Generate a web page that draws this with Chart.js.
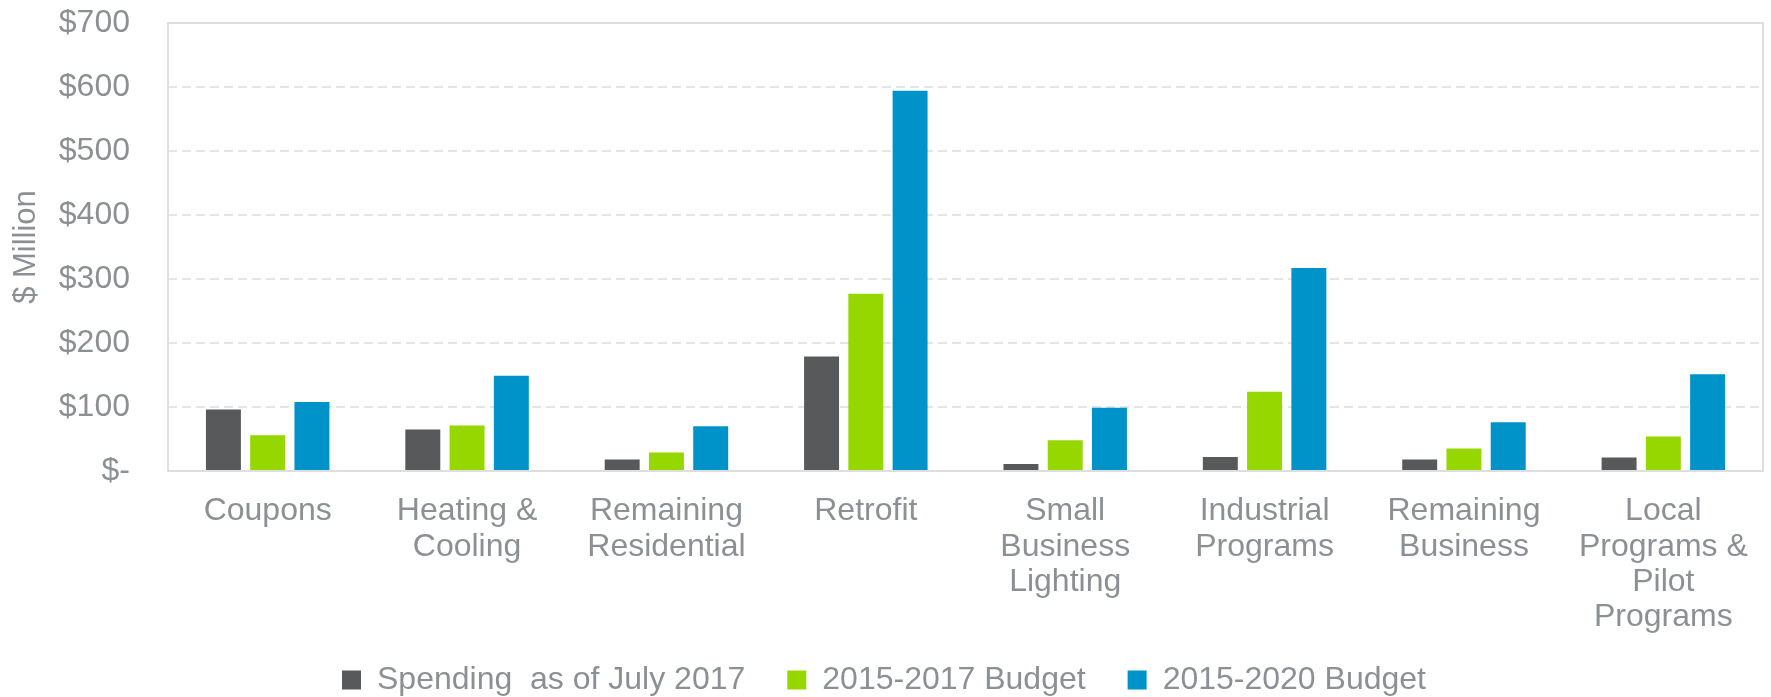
<!DOCTYPE html>
<html>
<head>
<meta charset="utf-8">
<title>Program Spending vs Budget</title>
<script src="https://cdn.jsdelivr.net/npm/chart.js@4.4.1/dist/chart.umd.min.js"></script>
<style>
    html, body { margin: 0; padding: 0; background: #fff; }
    #wrap { width: 1771px; height: 697px; position: relative; }
</style>
</head>
<body>
<div id="wrap"><canvas id="spend-chart"></canvas></div>
<script>
// Program categories (multi-line labels)
const categories = [
    ['Coupons'],
    ['Heating &', 'Cooling'],
    ['Remaining', 'Residential'],
    ['Retrofit'],
    ['Small', 'Business', 'Lighting'],
    ['Industrial', 'Programs'],
    ['Remaining', 'Business'],
    ['Local', 'Programs &', 'Pilot', 'Programs']
];

// $ Million
const spending2017 = [96, 65, 18, 179, 11, 22, 18, 21];
const budget2015to2017 = [56, 71, 29, 277, 48, 124, 35, 54];
const budget2015to2020 = [108, 149, 70, 594, 99, 317, 76, 151];

const seriesNames = ['Spending  as of July 2017', '2015-2017 Budget', '2015-2020 Budget'];
const seriesColors = ['#58595B', '#97D700', '#0093C9'];

const textGray = '#8C9094';
const fontFamily = '"Liberation Sans", Arial, sans-serif';

// Solid frame around the plot area
const plotFrame = {
    id: 'plotFrame',
    afterDatasetsDraw(chart) {
        const a = chart.chartArea;
        const ctx = chart.ctx;
        ctx.save();
        ctx.strokeStyle = '#DEDEDE';
        ctx.lineWidth = 2;
        ctx.strokeRect(a.left, a.top, a.right - a.left, a.bottom - a.top);
        ctx.restore();
    }
};

const ctx = document.getElementById('spend-chart');

new Chart(ctx, {
    type: 'bar',
    data: {
        labels: categories,
        datasets: [
            { label: seriesNames[0], data: spending2017, backgroundColor: seriesColors[0] },
            { label: seriesNames[1], data: budget2015to2017, backgroundColor: seriesColors[1] },
            { label: seriesNames[2], data: budget2015to2020, backgroundColor: seriesColors[2] }
        ]
    },
    options: {
        responsive: true,
        maintainAspectRatio: false,
        animation: false,
        categoryPercentage: 0.666,
        barPercentage: 0.79,
        layout: {
            padding: { top: 23, right: 3, bottom: -9, left: 0 }
        },
        plugins: {
            tooltip: { enabled: false },
            legend: {
                position: 'bottom',
                labels: {
                    color: textGray,
                    font: { family: fontFamily, size: 32 },
                    boxWidth: 19,
                    boxHeight: 19,
                    padding: 26,
                    // a little extra room after each item except the last
                    generateLabels: function(chart) {
                        const items = Chart.defaults.plugins.legend.labels.generateLabels(chart);
                        items.forEach(function(item, i) {
                            if (i < items.length - 1) item.text += '\u2002';
                        });
                        return items;
                    }
                }
            }
        },
        scales: {
            x: {
                grid: { display: false, drawTicks: false },
                border: { display: false },
                ticks: {
                    color: textGray,
                    font: { family: fontFamily, size: 32, lineHeight: 1.1 },
                    padding: 23,
                    maxRotation: 0,
                    autoSkip: false
                },
                afterFit: function(scale) {
                    scale.height = 167;
                }
            },
            y: {
                min: 0,
                max: 700,
                grid: {
                    color: '#E4E4E4',
                    lineWidth: 2,
                    drawTicks: true,
                    tickLength: 35,
                    tickColor: 'transparent'
                },
                border: { display: false, dash: [9, 5] },
                ticks: {
                    stepSize: 100,
                    color: textGray,
                    font: { family: fontFamily, size: 32 },
                    padding: 3,
                    callback: function(value) {
                        return value === 0 ? '$-' : '$' + value;
                    }
                },
                title: {
                    display: true,
                    text: '$ Million',
                    color: textGray,
                    font: { family: fontFamily, size: 31 },
                    padding: { top: 8, bottom: 0 }
                },
                afterFit: function(scale) {
                    scale.width = 168;
                }
            }
        }
    },
    plugins: [plotFrame]
});
</script>
</body>
</html>
